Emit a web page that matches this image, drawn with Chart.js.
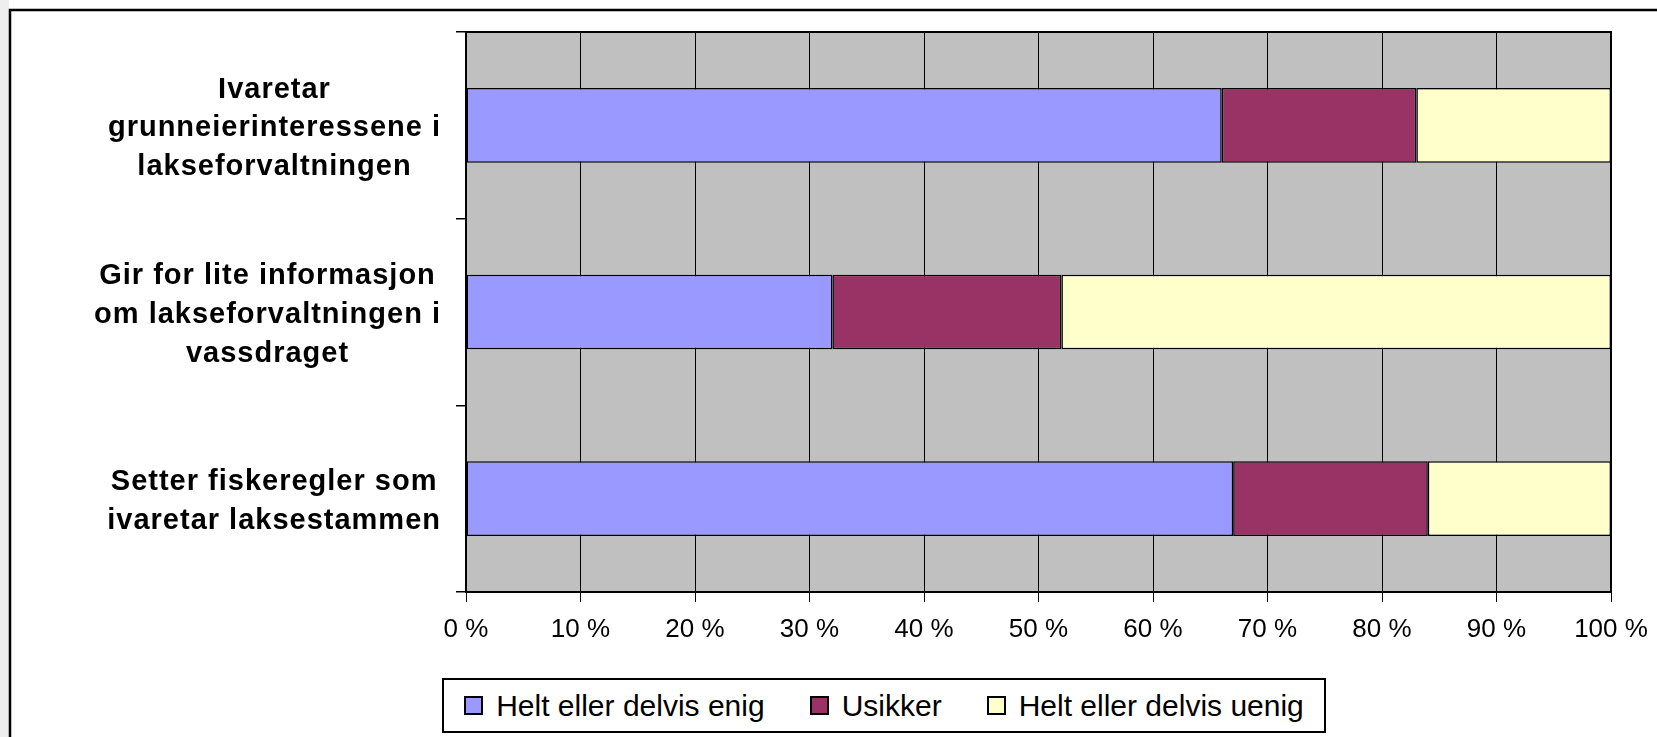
<!DOCTYPE html>
<html>
<head>
<meta charset="utf-8">
<script src="https://cdn.jsdelivr.net/npm/chart.js@4.4.0/dist/chart.umd.min.js"></script>
<style>
    html, body { margin: 0; padding: 0; background: #fff; }
    #wrap { position: relative; width: 1657px; height: 737px; overflow: hidden; }
    #legend {
        position: absolute; left: 442px; top: 678px; width: 884px; height: 55px;
        box-sizing: border-box; border: 2px solid #000; background: #fff;
        display: flex; align-items: center; justify-content: center; gap: 45px;
        font-family: 'Liberation Sans', Arial, sans-serif; font-size: 30px; color: #000;
    }
    .item { display: flex; align-items: center; white-space: nowrap; }
    .swatch { width: 19px; height: 19px; border: 2px solid #000; box-sizing: border-box; margin-right: 13px; }
</style>
</head>
<body>
<div id="wrap">
    <canvas id="surveyChart" width="1657" height="737"></canvas>
    <div id="legend"></div>
</div>
<script>
const categories = [
    ['Ivaretar', 'grunneierinteressene i', 'lakseforvaltningen'],
    ['Gir for lite informasjon', 'om lakseforvaltningen i', 'vassdraget'],
    ['Setter fiskeregler som', 'ivaretar laksestammen']
];
const seriesNames = ['Helt eller delvis enig', 'Usikker', 'Helt eller delvis uenig'];
const enig = [66, 32, 67];
const usikker = [17, 20, 17];
const uenig = [17, 48, 16];
const tickLabels = ['0 %', '10 %', '20 %', '30 %', '40 %', '50 %', '60 %', '70 %', '80 %', '90 %', '100 %'];
const colors = ['#9999FF', '#993366', '#FFFFCC'];

const FONT = "'Liberation Sans', Arial, sans-serif";
const LABEL_SPACING = 1;

// white page, outer chart border and grey plot background
const chartFrame = {
    id: 'chartFrame',
    beforeDraw(chart) {
        const ctx = chart.ctx;
        const a = chart.chartArea;
        ctx.save();
        ctx.fillStyle = '#ffffff';
        ctx.fillRect(0, 0, chart.width, chart.height);
        ctx.fillStyle = '#eeeeee';
        ctx.fillRect(0, 0, 9, chart.height);
        ctx.strokeStyle = '#000';
        ctx.lineWidth = 2.5;
        ctx.strokeRect(10, 10, chart.width + 50, chart.height + 50);
        ctx.fillStyle = '#C0C0C0';
        ctx.fillRect(a.left, a.top, a.right - a.left, a.bottom - a.top);
        ctx.restore();

        // each category label block is centred on its own widest line,
        // right edge kept just left of the tick marks (like the original)
        const y = chart.scales.y;
        const rightEdge = y.right - 25;
        y.getLabelItems().forEach(item => {
            if (item._moved) return;
            ctx.save();
            ctx.font = item.font.string;
            const lines = [].concat(item.label);
            const w = Math.max(...lines.map(s => ctx.measureText(s).width + s.length * LABEL_SPACING));
            ctx.restore();
            item.options.translation[0] = rightEdge - w / 2;
            item.options.translation[1] += 3;
            item._moved = true;
        });
    },
    afterDatasetsDraw(chart) {
        const ctx = chart.ctx;
        const a = chart.chartArea;
        ctx.save();
        ctx.strokeStyle = '#000';
        ctx.lineWidth = 2;
        ctx.strokeRect(a.left, a.top, a.right - a.left, a.bottom - a.top);
        ctx.restore();
        // category labels (drawn after datasets) get a bit of letter spacing
        ctx.letterSpacing = LABEL_SPACING + 'px';
    },
    afterDraw(chart) {
        chart.ctx.letterSpacing = '0px';
    }
};

const datasets = [enig, usikker, uenig].map((values, i) => ({
    label: seriesNames[i],
    data: values,
    backgroundColor: colors[i],
    borderColor: '#000',
    borderWidth: 1.5,
    borderSkipped: false,
    categoryPercentage: 0.8,
    barPercentage: 0.5
}));

const chart = new Chart(document.getElementById('surveyChart'), {
    type: 'bar',
    data: { labels: categories, datasets: datasets },
    options: {
        indexAxis: 'y',
        responsive: false,
        animation: false,
        devicePixelRatio: 1,
        layout: { padding: { left: 12, top: 32, right: 46, bottom: 0 } },
        plugins: {
            legend: { display: false },
            tooltip: { enabled: false }
        },
        scales: {
            x: {
                stacked: true,
                min: 0,
                max: 100,
                ticks: {
                    stepSize: 10,
                    color: '#000',
                    padding: 12,
                    font: { family: FONT, size: 26 },
                    callback: (value, index) => tickLabels[index]
                },
                grid: { color: '#000', lineWidth: 1, tickLength: 10, tickColor: '#000' },
                border: { color: '#000', width: 2 },
                afterFit: (scale) => {
                    scale.height = 145;
                    scale.paddingLeft = 0;
                    scale.paddingRight = 0;
                }
            },
            y: {
                stacked: true,
                ticks: {
                    color: '#000',
                    crossAlign: 'center',
                    padding: 27,
                    z: 1,
                    font: { family: FONT, size: 29, weight: 'bold', lineHeight: 1.33 }
                },
                grid: { drawOnChartArea: false, tickLength: 10, tickColor: '#000', lineWidth: 1.5 },
                border: { color: '#000', width: 2 },
                afterFit: (scale) => {
                    scale.width = 454;
                    scale.paddingTop = 0;
                    scale.paddingBottom = 0;
                }
            }
        }
    },
    plugins: [chartFrame]
});

// legend as plain html, built from the chart datasets
const legendEl = document.getElementById('legend');
chart.data.datasets.forEach(ds => {
    const item = document.createElement('div');
    item.className = 'item';
    const sw = document.createElement('span');
    sw.className = 'swatch';
    sw.style.background = ds.backgroundColor;
    const txt = document.createElement('span');
    txt.textContent = ds.label;
    item.appendChild(sw);
    item.appendChild(txt);
    legendEl.appendChild(item);
});
</script>
</body>
</html>
